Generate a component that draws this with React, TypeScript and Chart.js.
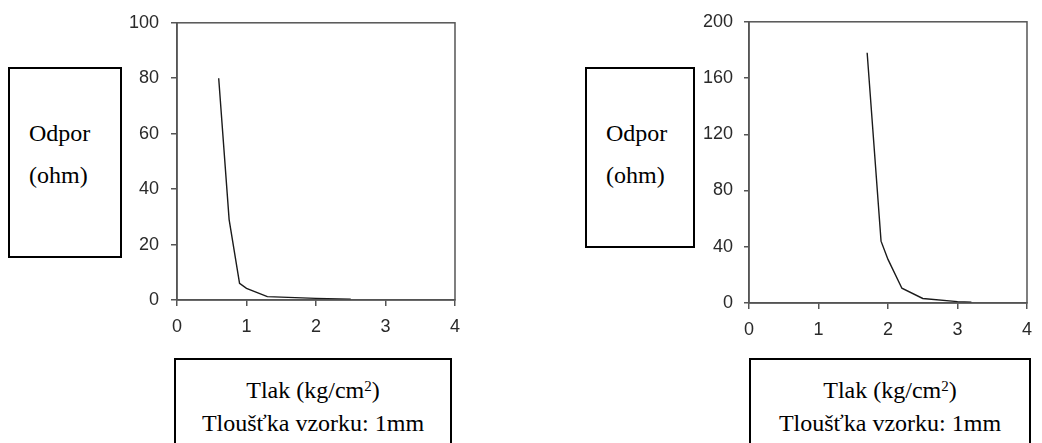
import React, { useEffect, useRef } from "react";
import { Chart, registerables } from "chart.js";

Chart.register(...registerables);

// ---- data ----
const leftPressure = [0.6, 0.75, 0.9, 1.0, 1.3, 2.0, 2.5];
const leftResistance = [80, 29, 6, 4.2, 1.2, 0.6, 0.3];
const rightPressure = [1.7, 1.9, 2.0, 2.2, 2.5, 3.0, 3.2];
const rightResistance = [178, 44, 31, 10.5, 3.2, 1.0, 0.5];

const xTicks = [0, 1, 2, 3, 4];
const leftYTicks = [0, 20, 40, 60, 80, 100];
const rightYTicks = [0, 40, 80, 120, 160, 200];

const yLabelLines = ["Odpor", "(ohm)"];
const xLabelMain = "Tlak (kg/cm";
const xLabelSup = "2";
const xLabelSecond = "Tloušťka vzorku: 1mm";

const frameColor = "#555";

const framePlugin = {
  id: "frame",
  afterDraw(chart: any) {
    const { ctx, chartArea } = chart;
    ctx.save();
    ctx.strokeStyle = frameColor;
    ctx.lineWidth = 1.5;
    ctx.strokeRect(
      chartArea.left,
      chartArea.top,
      chartArea.right - chartArea.left,
      chartArea.bottom - chartArea.top
    );
    ctx.restore();
  },
};

type PanelProps = {
  xs: number[];
  ys: number[];
  yTicks: number[];
  left: number;
  top: number;
  width: number;
  height: number;
  yAxisWidth: number;
  xAxisHeight: number;
  padTop: number;
  padRight: number;
  yTickLen: number;
  yPad: number;
};

function Panel(p: PanelProps) {
  const ref = useRef<HTMLCanvasElement | null>(null);
  useEffect(() => {
    if (!ref.current) return;
    const yStep = p.yTicks[1] - p.yTicks[0];
    const chart = new Chart(ref.current, {
      type: "line",
      data: {
        datasets: [
          {
            data: p.xs.map((x, i) => ({ x, y: p.ys[i] })),
            borderColor: "#1a1a1a",
            borderWidth: 1.4,
            pointRadius: 0,
            tension: 0,
            fill: false,
          },
        ],
      },
      options: {
        animation: false,
        responsive: false,
        devicePixelRatio: 1,
        events: [],
        layout: {
          padding: { top: p.padTop, right: p.padRight, left: 0, bottom: 0 },
        },
        plugins: { legend: { display: false }, tooltip: { enabled: false } },
        scales: {
          x: {
            type: "linear",
            min: xTicks[0],
            max: xTicks[xTicks.length - 1],
            afterFit: (s: any) => {
              s.height = p.xAxisHeight;
            },
            ticks: {
              stepSize: 1,
              padding: 10,
              color: "#2a2a2a",
              font: { family: "'Liberation Sans', Arial", size: 18 },
              maxRotation: 0,
            },
            grid: {
              drawOnChartArea: false,
              drawTicks: true,
              tickLength: 6,
              color: frameColor,
              lineWidth: 1.5,
            },
            border: { display: true, color: frameColor, width: 1.5 },
          },
          y: {
            type: "linear",
            min: p.yTicks[0],
            max: p.yTicks[p.yTicks.length - 1],
            afterFit: (s: any) => {
              s.width = p.yAxisWidth;
            },
            ticks: {
              stepSize: yStep,
              padding: p.yPad,
              color: "#2a2a2a",
              font: { family: "'Liberation Sans', Arial", size: 18 },
            },
            grid: {
              drawOnChartArea: false,
              drawTicks: true,
              tickLength: p.yTickLen,
              color: frameColor,
              lineWidth: 1.5,
            },
            border: { display: true, color: frameColor, width: 1.5 },
          },
        },
      },
      plugins: [framePlugin],
    });
    return () => chart.destroy();
  }, []);
  return (
    <canvas
      ref={ref}
      width={p.width}
      height={p.height}
      style={{
        position: "absolute",
        left: p.left,
        top: p.top,
        width: p.width,
        height: p.height,
      }}
    />
  );
}

const serif = "'Liberation Serif', 'Times New Roman', serif";

function YBox({ left, top, width, height }: { left: number; top: number; width: number; height: number }) {
  return (
    <div
      style={{
        position: "absolute",
        left,
        top,
        width,
        height,
        boxSizing: "border-box",
        border: "2px solid #000",
        background: "#fff",
        fontFamily: serif,
        fontSize: 24,
        color: "#000",
      }}
    >
      <div style={{ position: "absolute", left: 19, top: 51, lineHeight: "27px" }}>{yLabelLines[0]}</div>
      <div style={{ position: "absolute", left: 19, top: 93, lineHeight: "27px" }}>{yLabelLines[1]}</div>
    </div>
  );
}

function XBox({ left, top, width }: { left: number; top: number; width: number }) {
  return (
    <div
      style={{
        position: "absolute",
        left,
        top,
        width,
        height: 120,
        boxSizing: "border-box",
        border: "2px solid #000",
        background: "#fff",
        fontFamily: serif,
        fontSize: 24,
        color: "#000",
        textAlign: "center",
      }}
    >
      <div style={{ position: "absolute", left: 0, right: 0, top: 17, lineHeight: "27px" }}>
        {xLabelMain}
        <sup style={{ fontSize: 15, verticalAlign: "top", position: "relative", top: -4 }}>{xLabelSup}</sup>)
      </div>
      <div style={{ position: "absolute", left: 0, right: 0, top: 50, lineHeight: "27px" }}>{xLabelSecond}</div>
    </div>
  );
}

export default function App() {
  return (
    <div
      style={{
        position: "absolute",
        left: 0,
        top: 0,
        width: 1042,
        height: 443,
        overflow: "hidden",
        background: "#fff",
      }}
    >
      <Panel
        xs={leftPressure}
        ys={leftResistance}
        yTicks={leftYTicks}
        left={120}
        top={0}
        width={350}
        height={345}
        yAxisWidth={57}
        xAxisHeight={45}
        padTop={21}
        padRight={15}
        yTickLen={6}
        yPad={12}
      />
      <Panel
        xs={rightPressure}
        ys={rightResistance}
        yTicks={rightYTicks}
        left={690}
        top={0}
        width={352}
        height={350}
        yAxisWidth={59}
        xAxisHeight={47}
        padTop={16}
        padRight={8}
        yTickLen={5}
        yPad={11}
      />
      <YBox left={8} top={67} width={114} height={191} />
      <YBox left={585} top={67} width={110} height={181} />
      <XBox left={174} top={358} width={278} />
      <XBox left={749} top={358} width={282} />
    </div>
  );
}
